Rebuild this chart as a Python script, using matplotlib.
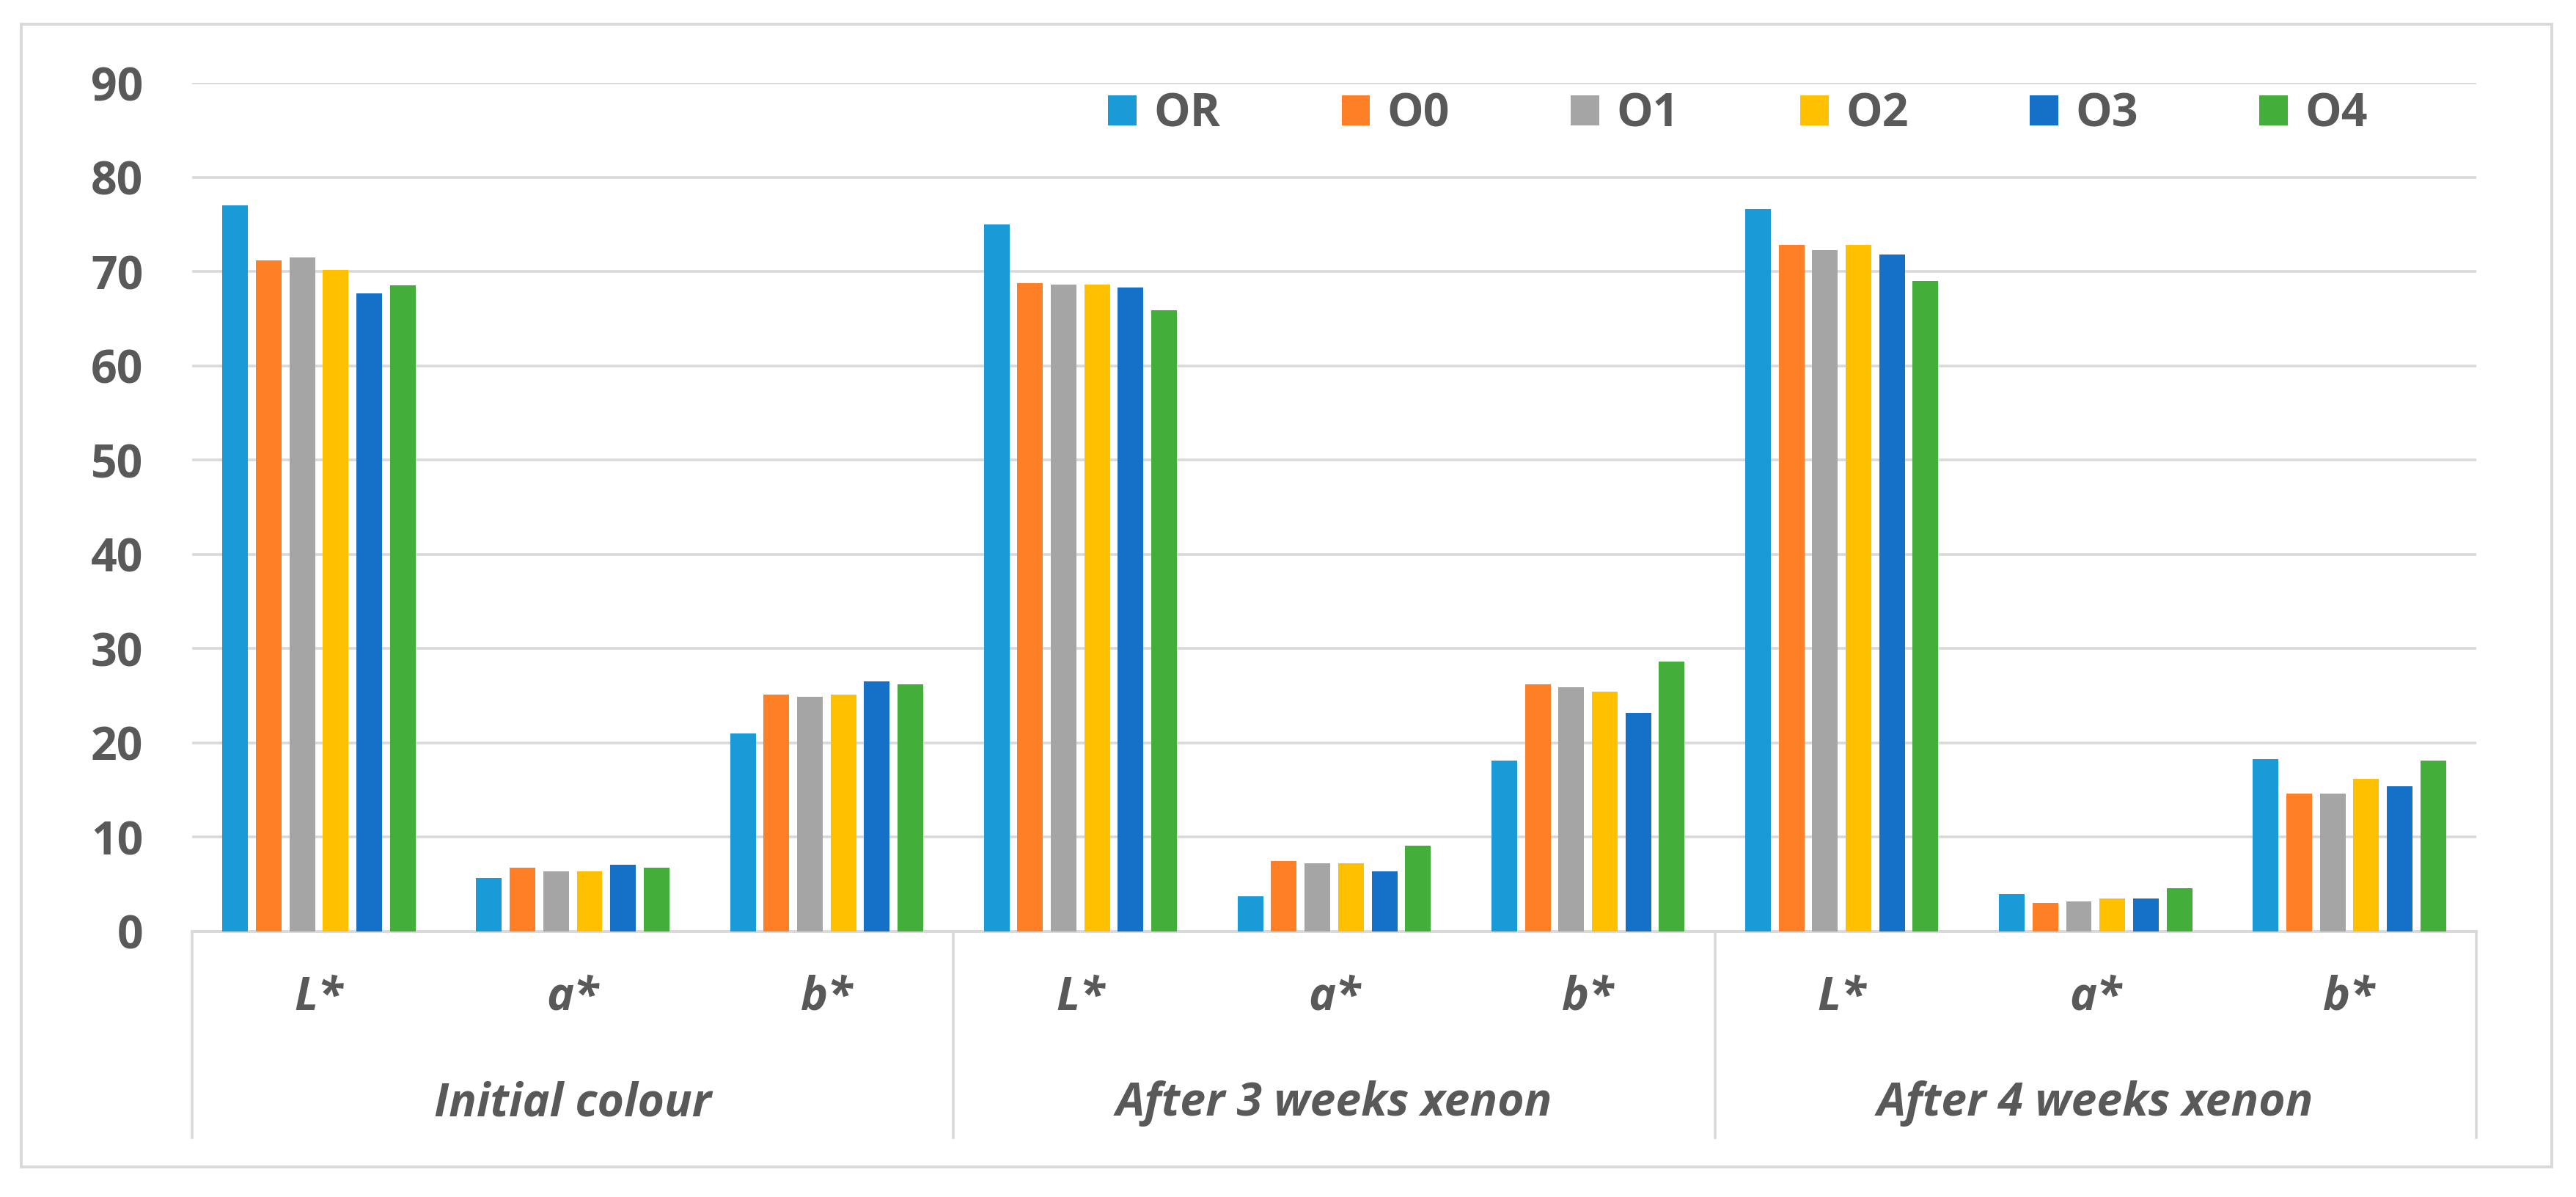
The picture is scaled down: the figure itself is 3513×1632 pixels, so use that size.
import numpy as np
import matplotlib.pyplot as plt
from matplotlib.patches import Rectangle

# data
groups = ['Initial colour', 'After 3 weeks xenon', 'After 4 weeks xenon']
params = ['L*', 'a*', 'b*']
series = ['OR', 'O0', 'O1', 'O2', 'O3', 'O4']

OR = [77.0, 5.7, 21.0, 75.0, 3.7, 18.1, 76.6, 4.0, 18.3]
O0 = [71.2, 6.8, 25.1, 68.8, 7.5, 26.2, 72.8, 3.0, 14.6]
O1 = [71.5, 6.4, 24.9, 68.6, 7.2, 25.9, 72.3, 3.2, 14.6]
O2 = [70.2, 6.4, 25.1, 68.6, 7.2, 25.4, 72.8, 3.5, 16.2]
O3 = [67.7, 7.1, 26.5, 68.3, 6.4, 23.2, 71.8, 3.5, 15.4]
O4 = [68.5, 6.8, 26.2, 65.9, 9.1, 28.6, 69.0, 4.6, 18.1]

colors = ['#1A9BD7', '#FF7F27', '#A5A5A5', '#FFC000', '#1570C8', '#43AE3A']
text_col = '#595959'
grid_col = '#D9D9D9'

plt.rcParams['font.family'] = ['Open Sans', 'DejaVu Sans']
fs = 45

W, H = 3513, 1632
fig = plt.figure(figsize=(W / 100, H / 100), dpi=100)

# outer chart border
fig.patches.append(Rectangle((29 / W, (H - 1591) / H), (3480 - 29) / W, (1591 - 33) / H,
                             transform=fig.transFigure, fill=False,
                             edgecolor=grid_col, linewidth=2.8))

ax = fig.add_axes([262 / W, (H - 1270) / H, (3377 - 262) / W, (1270 - 113) / H])

all_vals = [OR, O0, O1, O2, O3, O4]
x = np.arange(len(OR))
pitch = 0.132
width = 0.101
for i, (name, vals) in enumerate(zip(series, all_vals)):
    ax.bar(x + (i - 2.5) * pitch, vals, width, color=colors[i], label=name, zorder=3)

ax.set_xlim(-0.5, len(OR) - 0.5)
ax.set_ylim(0, 90)
ax.set_yticks(np.arange(0, 91, 10))
ax.yaxis.grid(True, color=grid_col, linewidth=2.6, zorder=0)
ax.set_axisbelow(True)
for s in ['top', 'right', 'left']:
    ax.spines[s].set_visible(False)
ax.spines['bottom'].set_color(grid_col)
ax.spines['bottom'].set_linewidth(2.8)
ax.set_xticks([])
ax.tick_params(axis='y', length=0, pad=48, labelsize=fs, labelcolor=text_col)
for lab in ax.get_yticklabels():
    lab.set_fontweight('bold')

# two-level category axis
tr = ax.get_xaxis_transform()
for k in range(len(OR)):
    ax.text(k, -0.078, params[k % 3], transform=tr, ha='center', va='center',
            fontsize=fs, fontweight='bold', fontstyle='italic', color=text_col)
for g, name in enumerate(groups):
    ax.text(g * 3 + 1, -0.203, name, transform=tr, ha='center', va='center',
            fontsize=fs, fontweight='bold', fontstyle='italic', color=text_col)
for sep in [-0.5, 2.5, 5.5, 8.5]:
    ax.plot([sep, sep], [0, -0.243], transform=tr, color=grid_col,
            linewidth=2.6, clip_on=False)

leg = ax.legend(loc='center left', bbox_to_anchor=(1511 / W, (H - 156) / H),
                bbox_transform=fig.transFigure, ncol=6, frameon=False,
                fontsize=fs, handlelength=0.62, handleheight=0.64,
                handletextpad=0.37, columnspacing=2.65, borderpad=0, borderaxespad=0)
for t in leg.get_texts():
    t.set_color(text_col)
    t.set_fontweight('bold')

fig.savefig('out.png', dpi=100, facecolor='white')
